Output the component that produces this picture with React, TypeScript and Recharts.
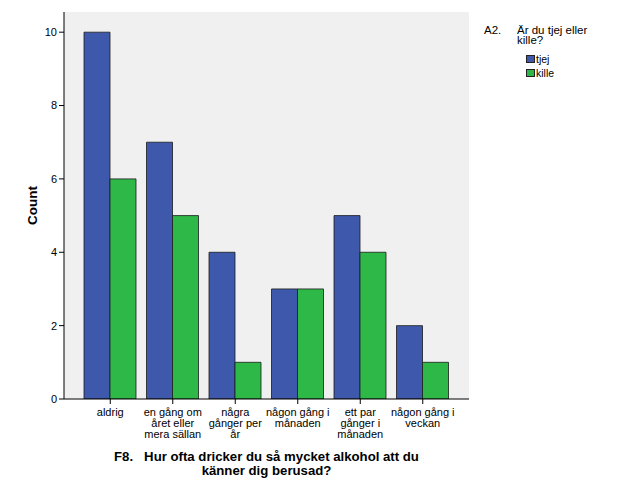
import React from 'react';
import { BarChart, Bar, XAxis, YAxis, CartesianGrid, Legend } from 'recharts';

const categories = [
  'aldrig',
  'en gång om\nåret eller\nmera sällan',
  'några\ngånger per\når',
  'någon gång i\nmånaden',
  'ett par\ngånger i\nmånaden',
  'någon gång i\nveckan',
];
const tjej = [10, 7, 4, 3, 5, 2];
const kille = [6, 5, 1, 3, 4, 1];
const yTicks = [0, 2, 4, 6, 8, 10];
const seriesNames = ['tjej', 'kille'];
const legendTitle = ['A2.', 'Är du tjej eller', 'kille?'];
const xTitle = ['F8.   Hur ofta dricker du så mycket alkohol att du', 'känner dig berusad?'];
const yTitle = 'Count';

const BLUE = '#3E58AC';
const GREEN = '#2EB848';
const FONT = '"Liberation Sans", Arial, sans-serif';

const data = categories.map((c, i) => ({ cat: c, tjej: tjej[i], kille: kille[i] }));

const CatTick = (props: any) => {
  const { x, y, payload } = props;
  const lines = String(payload.value).split('\n');
  return (
    <g transform={`translate(${x},${y})`}>
      {lines.map((l, i) => (
        <text key={i} x={0} y={10 + i * 11} textAnchor="middle" fontSize={11} fill="#000" fontFamily={FONT}>
          {l}
        </text>
      ))}
    </g>
  );
};

const XTitle = (props: any) => {
  const vb = props.viewBox || {};
  const cx = vb.x + vb.width / 2;
  return (
    <g>
      {xTitle.map((l, i) => (
        <text key={i} x={cx} y={vb.y + 62 + i * 13.5} textAnchor="middle" fontSize={13.2} fontWeight="bold" fill="#000" fontFamily={FONT} style={{ whiteSpace: 'pre' }}>
          {l}
        </text>
      ))}
    </g>
  );
};

const YTitle = (props: any) => {
  const vb = props.viewBox || {};
  const cy = vb.y + vb.height / 2;
  return (
    <text x={37} y={cy} transform={`rotate(-90, 37, ${cy})`} textAnchor="middle" fontSize={13.5} fontWeight="bold" fill="#000" fontFamily={FONT}>
      {yTitle}
    </text>
  );
};

const LegendContent = () => {
  const colors = [BLUE, GREEN];
  return (
    <div style={{ fontFamily: FONT, color: '#000', position: 'relative', width: 160, height: 80 }}>
      <div style={{ position: 'absolute', left: 19, top: 14.5, fontSize: 11.5, lineHeight: '11px', whiteSpace: 'nowrap' }}>{legendTitle[0]}</div>
      <div style={{ position: 'absolute', left: 52, top: 14.5, fontSize: 11.5, lineHeight: '11px', whiteSpace: 'nowrap' }}>{legendTitle[1]}</div>
      <div style={{ position: 'absolute', left: 52, top: 25, fontSize: 11.5, lineHeight: '11px', whiteSpace: 'nowrap' }}>{legendTitle[2]}</div>
      {seriesNames.map((n, i) => (
        <div key={n} style={{ position: 'absolute', left: 61, top: 45 + i * 14, height: 8, display: 'flex', alignItems: 'center', fontSize: 10.5, lineHeight: '8px', whiteSpace: 'nowrap' }}>
          <span style={{ display: 'inline-block', boxSizing: 'border-box', width: 9, height: 8, background: colors[i], border: '1px solid #222', marginRight: 1 }} />
          <span>{n}</span>
        </div>
      ))}
    </div>
  );
};

export default function App() {
  return (
    <div style={{ position: 'absolute', left: 0, top: 0, width: 627, height: 502, background: '#fff' }}>
      <BarChart
        width={627}
        height={502}
        data={data}
        margin={{ top: 12, right: 158, bottom: 0, left: 0 }}
        barGap={0}
        barCategoryGap={5}
      >
        <CartesianGrid horizontal={false} vertical={false} fill="#F0F0F0" />
        <XAxis
          dataKey="cat"
          interval={0}
          height={103}
          padding={{ left: 15, right: 15 }}
          tick={<CatTick />}
          tickSize={5}
          tickLine={{ stroke: '#000' }}
          axisLine={{ stroke: '#000' }}
          label={<XTitle />}
        />
        <XAxis xAxisId="top" orientation="top" dataKey="cat" height={0} tick={false} tickLine={false} axisLine={{ stroke: '#000' }} />
        <YAxis
          width={64}
          domain={[0, 10.55]}
          ticks={yTicks}
          allowDataOverflow
          tickSize={5}
          tickMargin={2}
          tick={{ fontSize: 11, fill: '#000', fontFamily: FONT }}
          tickLine={{ stroke: '#000' }}
          axisLine={{ stroke: '#000' }}
          label={<YTitle />}
        />
        <YAxis yAxisId="right" orientation="right" width={0} tick={false} tickLine={false} axisLine={{ stroke: '#000' }} />
        <Legend
          layout="horizontal"
          align="center"
          verticalAlign="middle"
          content={<LegendContent />}
          wrapperStyle={{ position: 'absolute', left: 465, top: 10, width: 160, height: 80 }}
        />
        <Bar dataKey="tjej" fill={BLUE} stroke="#1a1a1a" strokeWidth={0.8} barSize={26} isAnimationActive={false} />
        <Bar dataKey="kille" fill={GREEN} stroke="#1a1a1a" strokeWidth={0.8} barSize={26} isAnimationActive={false} />
      </BarChart>
    </div>
  );
}
